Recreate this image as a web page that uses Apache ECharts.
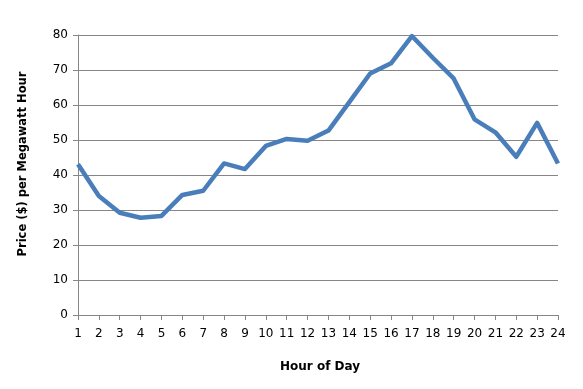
<!DOCTYPE html>
<html><head><meta charset="utf-8">
<script src="https://cdn.jsdelivr.net/npm/echarts@6/dist/echarts.min.js"></script>
<style>html,body{margin:0;padding:0;background:#fff}#c{width:583px;height:389px}</style>
</head><body><div id="c"></div>
<script>
const hours = ['1','2','3','4','5','6','7','8','9','10','11','12','13','14','15','16','17','18','19','20','21','22','23','24'];
const prices = [43.1,34.0,29.2,27.8,28.3,34.3,35.5,43.3,41.7,48.3,50.3,49.8,52.7,60.8,69.0,71.9,79.7,73.5,67.6,55.9,52.2,45.2,54.9,43.3];
const yTicks = {min:0, max:80, interval:10};
const chart = echarts.init(document.getElementById('c'), null, {renderer:'canvas'});
const font = 'DejaVu Sans, Verdana, sans-serif';
chart.setOption({
  animation:false,
  grid:{left:78, right:25, top:35, bottom:74},
  xAxis:{
    type:'category', data:hours, boundaryGap:false,
    name:'Hour of Day', nameLocation:'middle', nameGap:46,
    nameTextStyle:{fontFamily:font, fontSize:12, fontWeight:'bold', color:'#000', padding:[0,0,0,4]},
    axisLine:{lineStyle:{color:'#868686', width:1}},
    axisTick:{show:true, length:5, lineStyle:{color:'#868686'}, alignWithLabel:true},
    axisLabel:{fontFamily:font, fontSize:12, color:'#000', margin:13, interval:0},
    splitLine:{show:false}
  },
  yAxis:{
    type:'value', min:yTicks.min, max:yTicks.max, interval:yTicks.interval,
    name:'Price ($) per Megawatt Hour', nameLocation:'middle', nameGap:49,
    nameTextStyle:{fontFamily:font, fontSize:11.5, fontWeight:'bold', color:'#000', padding:[0,0,0,22]},
    axisLine:{show:true, lineStyle:{color:'#868686', width:1}},
    axisTick:{show:true, length:5, lineStyle:{color:'#868686'}},
    axisLabel:{fontFamily:font, fontSize:12, color:'#000', margin:10},
    splitLine:{lineStyle:{color:'#868686', width:1}}
  },
  series:[{
    type:'line', data:prices, symbol:'none',
    lineStyle:{color:'#4A7EBB', width:4.5, join:'round'}
  }]
});
</script></body></html>
